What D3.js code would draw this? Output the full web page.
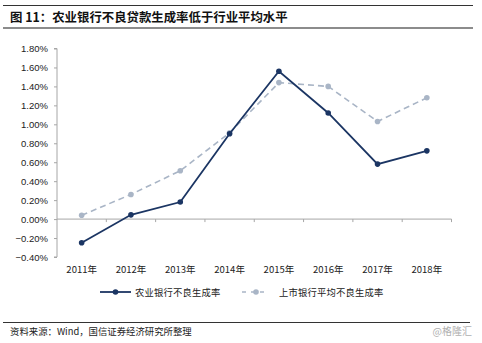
<!DOCTYPE html>
<html>
<head>
<meta charset="utf-8">
<script src="https://cdn.jsdelivr.net/npm/d3@7"></script>
<style>
  body { margin: 0; background: #fff; }
  svg { display: block; }
  text { font-family: "Liberation Sans", Arial, "Noto Sans CJK SC", sans-serif; }
  .cjk { font-family: "Noto Sans CJK SC", sans-serif; }
</style>
</head>
<body>
<svg id="chart" width="482" height="343"></svg>
<script>
// Years and NPL formation rates (%)
const years = ["2011年", "2012年", "2013年", "2014年", "2015年", "2016年", "2017年", "2018年"];
const abcRate = [-0.25, 0.045, 0.18, 0.90, 1.56, 1.12, 0.58, 0.72];
const listedAvgRate = [0.04, 0.26, 0.51, 0.91, 1.44, 1.40, 1.03, 1.28];
const yTicks = [-0.4, -0.2, 0, 0.2, 0.4, 0.6, 0.8, 1.0, 1.2, 1.4, 1.6, 1.8];
const seriesNames = ["农业银行不良生成率", "上市银行平均不良生成率"];

const svg = d3.select("#chart");
const navy = "#1B3563";
const grayBlue = "#A9B5C6";
const axisColor = "#A6A6A6";

// Header rules and title
svg.append("line").attr("x1", 3).attr("x2", 473).attr("y1", 5.5).attr("y2", 5.5)
  .attr("stroke", "#333").attr("stroke-width", 1);
svg.append("line").attr("x1", 3).attr("x2", 473).attr("y1", 28).attr("y2", 28)
  .attr("stroke", "#8C8C8C").attr("stroke-width", 2);
svg.append("text").attr("class", "cjk").attr("x", 10).attr("y", 21.5)
  .attr("font-size", 12.4).attr("font-weight", "bold").attr("fill", "#111")
  .text("图 11：农业银行不良贷款生成率低于行业平均水平");

// Scales
const x = d3.scaleBand().domain(years).range([57, 451.5]);
const y = d3.scaleLinear().domain([-0.4, 1.8]).range([257, 48.5]);

// Y axis
const yAxis = svg.append("g").attr("transform", "translate(57,0)")
  .call(d3.axisLeft(y).tickValues(yTicks).tickSize(3).tickPadding(6)
    .tickFormat(d => d3.format(".2f")(d) + "%"));
yAxis.select(".domain").attr("stroke", axisColor).attr("d", `M-3,${y(1.8)}H0V${y(-0.4)}H-3`);
yAxis.selectAll(".tick line").attr("stroke", axisColor);
yAxis.selectAll(".tick text").attr("font-size", 9.5).attr("fill", "#222")
  .attr("font-family", "Liberation Sans, Arial, sans-serif");

// X axis at zero line
const xAxis = svg.append("g").attr("transform", `translate(0,${y(0)})`)
  .call(d3.axisBottom(x).tickSize(0).tickFormat(""));
xAxis.select(".domain").attr("stroke", axisColor).attr("d", `M57,0H451.5`);
// Category boundary ticks
svg.append("g").selectAll("line").data(years)
  .join("line")
  .attr("x1", d => x(d) + x.bandwidth())
  .attr("x2", d => x(d) + x.bandwidth())
  .attr("y1", y(0)).attr("y2", y(0) + 3)
  .attr("stroke", axisColor);
// Year labels below plot
svg.append("g").selectAll("text").data(years).join("text")
  .attr("class", "cjk")
  .attr("x", d => x(d) + x.bandwidth() / 2).attr("y", 273)
  .attr("text-anchor", "middle").attr("font-size", 9.5).attr("fill", "#222")
  .text(d => d);

const line = d3.line().x((d, i) => x(years[i]) + x.bandwidth() / 2).y(d => y(d));

// Listed-bank average (dashed)
svg.append("path").datum(listedAvgRate).attr("d", line)
  .attr("fill", "none").attr("stroke", grayBlue).attr("stroke-width", 1.6)
  .attr("stroke-dasharray", "6,4");
svg.append("g").selectAll("circle").data(listedAvgRate).join("circle")
  .attr("cx", (d, i) => x(years[i]) + x.bandwidth() / 2).attr("cy", d => y(d))
  .attr("r", 2.8).attr("fill", grayBlue);

// ABC (solid)
svg.append("path").datum(abcRate).attr("d", line)
  .attr("fill", "none").attr("stroke", navy).attr("stroke-width", 1.8);
svg.append("g").selectAll("circle").data(abcRate).join("circle")
  .attr("cx", (d, i) => x(years[i]) + x.bandwidth() / 2).attr("cy", d => y(d))
  .attr("r", 2.8).attr("fill", navy);

// Legend
const lg = svg.append("g");
lg.append("line").attr("x1", 100).attr("x2", 131).attr("y1", 292).attr("y2", 292)
  .attr("stroke", navy).attr("stroke-width", 1.8);
lg.append("circle").attr("cx", 115.5).attr("cy", 292).attr("r", 2.8).attr("fill", navy);
lg.append("text").attr("class", "cjk").attr("x", 135).attr("y", 295.5)
  .attr("font-size", 9.3).attr("fill", "#222").attr("letter-spacing", 0.2).text(seriesNames[0]);
lg.append("line").attr("x1", 242).attr("x2", 269).attr("y1", 292).attr("y2", 292)
  .attr("stroke", grayBlue).attr("stroke-width", 1.6).attr("stroke-dasharray", "4,5");
lg.append("circle").attr("cx", 256).attr("cy", 292).attr("r", 2.8).attr("fill", grayBlue);
lg.append("text").attr("class", "cjk").attr("x", 279).attr("y", 295.5)
  .attr("font-size", 9.3).attr("fill", "#222").attr("letter-spacing", 0.2).text(seriesNames[1]);

// Footer
svg.append("line").attr("x1", 3).attr("x2", 470).attr("y1", 322.5).attr("y2", 322.5)
  .attr("stroke", "#333").attr("stroke-width", 1);
svg.append("text").attr("class", "cjk").attr("x", 10).attr("y", 335)
  .attr("font-size", 9.4).attr("fill", "#222").text("资料来源：Wind，国信证券经济研究所整理");
svg.append("text").attr("class", "cjk").attr("x", 472).attr("y", 335)
  .attr("text-anchor", "end").attr("font-size", 10).attr("fill", "#B0B0B0").text("@格隆汇");
</script>
</body>
</html>
